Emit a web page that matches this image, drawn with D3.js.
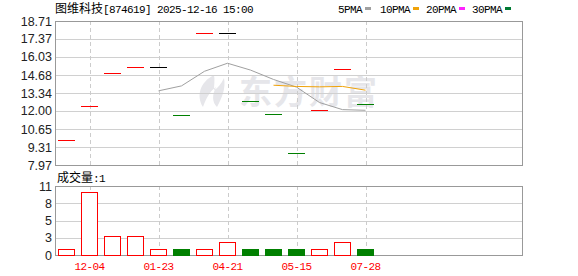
<!DOCTYPE html>
<html>
<head>
<meta charset="utf-8">
<title>图维科技 K线</title>
<script src="https://d3js.org/d3.v7.min.js"></script>
<style>
  body { margin: 0; padding: 0; background: #fff; }
  svg { display: block; }
  .mono { font-family: "Liberation Mono", "DejaVu Sans Mono", monospace; font-size: 11px; letter-spacing: -0.6px; }
  .cjk { font-family: "Noto Sans CJK SC", sans-serif; font-size: 12px; }
  .ylab { font-family: "Liberation Sans", Arial, sans-serif; font-size: 12.5px; fill: #222; }
</style>
</head>
<body>
<div id="chart"></div>
<script>
// data
var dates = ["11-20", "12-04", "12-11", "01-08", "01-23", "02-12", "03-20", "04-21", "04-29", "05-08", "05-15", "06-10", "07-04", "07-28"];
var closes = [9.81, 12.35, 14.81, 15.26, 15.26, 11.68, 17.79, 17.79, 12.74, 11.75, 8.84, 12.05, 15.11, 12.50];
var trend = ["up", "up", "up", "up", "flat", "down", "up", "flat", "down", "down", "down", "up", "up", "down"];
var volumes = [1, 10, 3, 3, 1, 1, 1, 2, 1, 1, 1, 1, 2, 1];
var ma5 = [null, null, null, null, 13.50, 13.87, 14.96, 15.56, 15.05, 14.35, 13.78, 12.63, 12.10, 12.05];
var ma10 = [null, null, null, null, null, null, null, null, null, 13.92, 13.83, 13.80, 13.83, 13.55];
var priceTicks = [18.71, 17.37, 16.03, 14.68, 13.34, 12.00, 10.65, 9.31, 7.97];
var volTicks = [11, 8.25, 5.5, 2.75, 0];
var volTickLabels = ["11", "8", "5", "3", "0"];
var dateTickIdx = [1, 4, 7, 10, 13];
var legendNames = ["5PMA", "10PMA", "20PMA", "30PMA"];
var legendColors = ["#a0a0a0", "#f0a30a", "#ff22ff", "#007a33"];

var W = 578, H = 276;
var left = 55, right = 522;
var pTop = 21, pBot = 165, vTop = 186, vBot = 255;
var slots = 20, barW = 17;

var svg = d3.select("#chart").append("svg").attr("width", W).attr("height", H);

var x = d3.scaleLinear().domain([-0.5, slots - 0.5]).range([left, left + slots * 23]);
var yP = d3.scaleLinear().domain([7.97, 18.71]).range([pBot, pTop]);
var yV = d3.scaleLinear().domain([0, 11]).range([vBot, vTop]);

var colorOf = { up: "#ff0000", down: "#008000", flat: "#000000" };
var crisp = function (v) { return Math.round(v) + 0.5; };

// watermark
var wm = svg.append("g").attr("fill", "#e6e6ea");
wm.append("path")
  .attr("d", "M214,75 C200,82 196,96 203,107 C206,99 209,92 216,87 C212,95 212,102 217,107 C222,98 226,88 224,78 C221,84 218,88 214,90 C214,85 215,80 214,75 Z");
wm.append("text").attr("x", 239).attr("y", 104)
  .attr("font-family", "Noto Sans CJK SC, sans-serif").attr("font-weight", "bold")
  .attr("font-size", 33).attr("textLength", 138).text("东方财富");

// horizontal grid
svg.append("g").selectAll("line").data(priceTicks.slice(1, -1)).join("line")
  .attr("x1", left).attr("x2", right)
  .attr("y1", function (d) { return crisp(yP(d)); }).attr("y2", function (d) { return crisp(yP(d)); })
  .attr("stroke", "#d0d0d0");
svg.append("g").selectAll("line").data(volTicks.slice(1, -1)).join("line")
  .attr("x1", left).attr("x2", right)
  .attr("y1", function (d) { return crisp(yV(d)); }).attr("y2", function (d) { return crisp(yV(d)); })
  .attr("stroke", "#d0d0d0");

// vertical dashed grid
[[pTop, pBot], [vTop, vBot]].forEach(function (r) {
  svg.append("g").selectAll("line").data(dateTickIdx).join("line")
    .attr("x1", function (d) { return crisp(x(d)); }).attr("x2", function (d) { return crisp(x(d)); })
    .attr("y1", r[0]).attr("y2", r[1])
    .attr("stroke", "#cccccc").attr("stroke-dasharray", "4,3");
});

// frames
[[pTop, pBot], [vTop, vBot]].forEach(function (r) {
  svg.append("rect").attr("x", left + 0.5).attr("y", r[0] + 0.5)
    .attr("width", right - left).attr("height", r[1] - r[0])
    .attr("fill", "none").attr("stroke", "#999");
});

// y labels
svg.append("g").selectAll("text").data(priceTicks).join("text")
  .attr("class", "ylab").attr("text-anchor", "end").attr("x", 52)
  .attr("y", function (d) { return yP(d); }).attr("dy", "0.36em")
  .text(function (d) { return d.toFixed(2); });
svg.append("g").selectAll("text").data(volTicks).join("text")
  .attr("class", "ylab").attr("text-anchor", "end").attr("x", 52)
  .attr("y", function (d) { return yV(d); }).attr("dy", "0.36em")
  .text(function (d, i) { return volTickLabels[i]; });

// price marks (open = close, one trade level per day)
svg.append("g").selectAll("line").data(closes).join("line")
  .attr("x1", function (d, i) { return x(i) - barW / 2; })
  .attr("x2", function (d, i) { return x(i) + barW / 2; })
  .attr("y1", function (d) { return crisp(yP(d)); }).attr("y2", function (d) { return crisp(yP(d)); })
  .attr("stroke", function (d, i) { return colorOf[trend[i]]; });

// moving averages
var line = d3.line().defined(function (d) { return d != null; })
  .x(function (d, i) { return x(i); }).y(function (d) { return yP(d); });
svg.append("path").datum(ma5).attr("d", line).attr("fill", "none").attr("stroke", legendColors[0]);
svg.append("path").datum(ma10).attr("d", line).attr("fill", "none").attr("stroke", legendColors[1]);

// volume bars
svg.append("g").selectAll("rect").data(volumes).join("rect")
  .attr("x", function (d, i) { return Math.round(x(i) - barW / 2) + 0.5; })
  .attr("y", function (d) { return Math.round(yV(d)) + 0.5; })
  .attr("width", barW - 1)
  .attr("height", function (d) { return Math.round(vBot - yV(d)); })
  .attr("fill", function (d, i) { return trend[i] === "down" ? "#008000" : "#fff"; })
  .attr("stroke", function (d, i) { return trend[i] === "down" ? "#008000" : "#ff0000"; });

// date labels
svg.append("g").selectAll("text").data(dateTickIdx).join("text")
  .attr("class", "mono").attr("fill", "#ff0000").attr("text-anchor", "middle")
  .attr("x", function (d) { return x(d); }).attr("y", 270)
  .text(function (d) { return dates[d]; });

// title
var t = svg.append("text").attr("x", 55).attr("y", 13);
t.append("tspan").attr("class", "cjk").text("图维科技");
t.append("tspan").attr("class", "mono").text("[874619] 2025-12-16 15:00");

// legend
var lx = [338, 380, 426, 472];
legendNames.forEach(function (n, i) {
  svg.append("text").attr("class", "mono").attr("x", lx[i]).attr("y", 13).text(n);
  svg.append("rect").attr("x", lx[i] + n.length * 6 + 3).attr("y", 7)
    .attr("width", 6).attr("height", 3).attr("fill", legendColors[i]);
});

// volume title
var vt = svg.append("text").attr("x", 57).attr("y", 182);
vt.append("tspan").attr("class", "cjk").text("成交量");
vt.append("tspan").attr("class", "mono").text(":" + volumes[volumes.length - 1]);
</script>
</body>
</html>
